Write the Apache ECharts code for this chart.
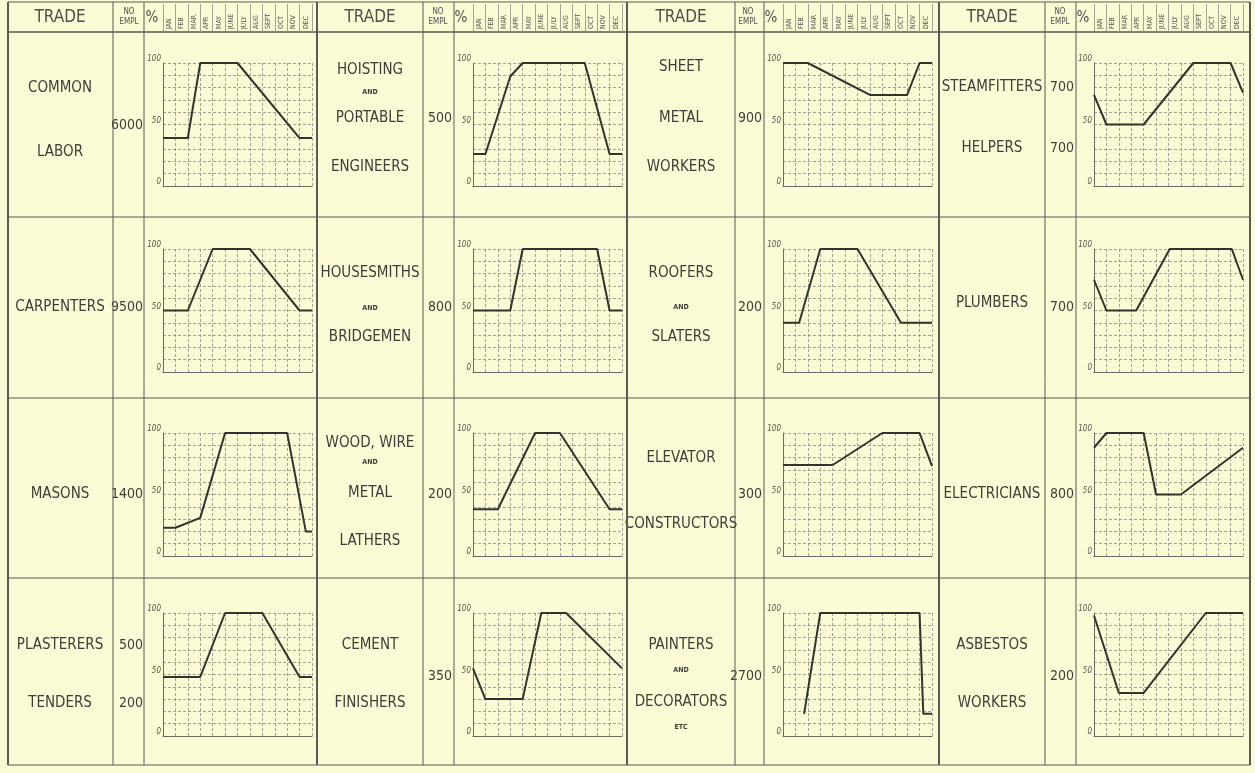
<!DOCTYPE html>
<html>
<head>
<meta charset="utf-8">
<script src="https://cdn.jsdelivr.net/npm/echarts@6/dist/echarts.min.js"></script>
<style>
  html, body { margin: 0; padding: 0; background: #fbfbd6; }
  #main { width: 1255px; height: 773px; }
</style>
</head>
<body>
<div id="main"></div>
<script>
const months = ['JAN', 'FEB', 'MAR', 'APR', 'MAY', 'JUNE', 'JULY', 'AUG', 'SEPT', 'OCT', 'NOV', 'DEC'];

const tradeNames = [
  ['COMMON', 'LABOR'], ['HOISTING', 'AND', 'PORTABLE', 'ENGINEERS'], ['SHEET', 'METAL', 'WORKERS'], ['STEAMFITTERS', 'HELPERS'],
  ['CARPENTERS'], ['HOUSESMITHS', 'AND', 'BRIDGEMEN'], ['ROOFERS', 'AND', 'SLATERS'], ['PLUMBERS'],
  ['MASONS'], ['WOOD, WIRE', 'AND', 'METAL', 'LATHERS'], ['ELEVATOR', 'CONSTRUCTORS'], ['ELECTRICIANS'],
  ['PLASTERERS', 'TENDERS'], ['CEMENT', 'FINISHERS'], ['PAINTERS', 'AND', 'DECORATORS', 'ETC'], ['ASBESTOS', 'WORKERS']
];

const employed = [
  ['6000'], ['500'], ['900'], ['700', '700'],
  ['9500'], ['800'], ['200'], ['700'],
  ['1400'], ['200'], ['300'], ['800'],
  ['500', '200'], ['350'], ['2700'], ['200']
];

// [month boundary (0 = start of Jan, 12 = end of Dec), percent of force employed]
const commonLabor = [[0, 39], [2, 39], [3, 100], [6, 100], [11, 39], [12, 39]];
const hoisting = [[0, 26], [1, 26], [3, 89], [4, 100], [9, 100], [11, 26], [12, 26]];
const sheetMetal = [[0, 100], [2, 100], [7, 74], [10, 74], [11, 100], [12, 100]];
const steamfitters = [[0, 74], [1, 50], [4, 50], [8, 100], [11, 100], [12, 76]];
const carpenters = [[0, 50], [2, 50], [4, 100], [7, 100], [11, 50], [12, 50]];
const housesmiths = [[0, 50], [3, 50], [4, 100], [10, 100], [11, 50], [12, 50]];
const roofers = [[0, 40], [1.3, 40], [3, 100], [6, 100], [9.5, 40], [12, 40]];
const plumbers = [[0, 75], [1, 50], [3.4, 50], [6.1, 100], [11.1, 100], [12, 75]];
const masons = [[0, 23], [1, 23], [3, 31], [5, 100], [10, 100], [11.5, 20], [12, 20]];
const lathers = [[0, 38], [2, 38], [5, 100], [7, 100], [11, 38], [12, 38]];
const elevator = [[0, 74], [4, 74], [8, 100], [11, 100], [12, 73]];
const electricians = [[0, 88], [1, 100], [4, 100], [5, 50], [7, 50], [12, 88]];
const plasterers = [[0, 48], [3, 48], [5, 100], [8, 100], [11, 48], [12, 48]];
const cementFinishers = [[0, 55], [1, 30], [4, 30], [5.5, 100], [7.5, 100], [12, 55]];
const painters = [[1.7, 18], [3, 100], [11, 100], [11.3, 18], [12, 18]];
const asbestos = [[0, 98], [2, 35], [4, 35], [9, 100], [12, 100]];

const seriesData = [
  commonLabor, hoisting, sheetMetal, steamfitters,
  carpenters, housesmiths, roofers, plumbers,
  masons, lathers, elevator, electricians,
  plasterers, cementFinishers, painters, asbestos
];

// layout
const tradeCenter = [60, 370, 681, 992];
const emplRight = [143, 452, 762, 1074];
const plotLeft = [163, 473, 783, 1094];
const plotWidth = 149;
const rowTop = [32, 217, 398, 578];
const plotTop = [63, 249, 433, 613];
const plotHeight = 123;
const labelY = [
  [56, 120], [38, 60, 86, 135], [35, 86, 135], [55, 116],
  [90], [56, 91, 120], [56, 90, 120], [86],
  [96], [45, 64, 95, 143], [60, 126], [96],
  [67, 125], [67, 125], [67, 92, 124, 149], [67, 125]
];
const emplY = [
  [93], [86], [86], [55, 116],
  [90], [90], [90], [90],
  [96], [96], [96], [96],
  [67, 125], [98], [98], [98]
];

const ink = '#3d3d3a';
const font = '"DejaVu Sans Condensed", "DejaVu Sans", sans-serif';

const grids = [], xAxes = [], yAxes = [], series = [], graphics = [];

seriesData.forEach(function (data, i) {
  const r = Math.floor(i / 4), c = i % 4;
  grids.push({ left: plotLeft[c], top: plotTop[r], width: plotWidth, height: plotHeight });
  xAxes.push({
    gridIndex: i, type: 'value', min: 0, max: 12, interval: 1,
    axisLabel: { show: false }, axisTick: { show: false },
    axisLine: { show: true, lineStyle: { color: '#6a6a62', width: 1 } },
    splitLine: { show: true, lineStyle: { color: '#8e8e84', width: 0.8, type: [3, 2] } }
  });
  yAxes.push({
    gridIndex: i, type: 'value', min: 0, max: 100, interval: 10,
    axisTick: { show: false },
    axisLine: { show: true, lineStyle: { color: '#6a6a62', width: 1 } },
    axisLabel: {
      formatter: function (v) { return v % 50 === 0 ? String(v) : ''; },
      fontSize: 8, fontStyle: 'italic', color: '#55554f', margin: 2,
      verticalAlign: 'bottom', fontFamily: font
    },
    splitLine: { show: true, lineStyle: { color: '#8e8e84', width: 0.8, type: [3, 2] } }
  });
  series.push({
    type: 'line', xAxisIndex: i, yAxisIndex: i, data: data,
    symbol: 'none', lineStyle: { color: '#333330', width: 2 }
  });

  // trade names
  tradeNames[i].forEach(function (t, k) {
    const small = (t === 'AND' || t === 'ETC');
    graphics.push({
      type: 'text', x: tradeCenter[c], y: rowTop[r] + labelY[i][k],
      style: {
        text: t, fill: ink, align: 'center', verticalAlign: 'middle',
        font: (small ? 'bold 7px ' : '15px ') + font
      }
    });
  });
  // number employed
  employed[i].forEach(function (n, k) {
    graphics.push({
      type: 'text', x: emplRight[c], y: rowTop[r] + emplY[i][k],
      style: { text: n, fill: ink, align: 'right', verticalAlign: 'middle', font: '14px ' + font }
    });
  });
});

// month header axes
for (let c = 0; c < 4; c++) {
  const gi = grids.length;
  grids.push({ left: plotLeft[c], top: 4, width: plotWidth, height: 28 });
  xAxes.push({
    gridIndex: gi, type: 'category', data: months, boundaryGap: true,
    axisLine: { show: false }, axisTick: { show: false },
    splitLine: { show: true, interval: 0, lineStyle: { color: '#8e8e84', width: 0.8 } },
    axisLabel: { inside: true, rotate: 90, interval: 0, fontSize: 7, color: '#55554f', margin: 3, fontFamily: font }
  });
  yAxes.push({ gridIndex: gi, type: 'value', min: 0, max: 1, show: false });

  const left = [8, 317, 627, 939][c];
  graphics.push(
    { type: 'text', x: tradeCenter[c], y: 18, style: { text: 'TRADE', fill: '#505049', align: 'center', verticalAlign: 'middle', font: '17px ' + font } },
    { type: 'text', x: emplRight[c] - 14, y: 12, style: { text: 'NO', fill: '#505049', align: 'center', verticalAlign: 'middle', font: '8px ' + font } },
    { type: 'text', x: emplRight[c] - 14, y: 22, style: { text: 'EMPL', fill: '#505049', align: 'center', verticalAlign: 'middle', font: '8px ' + font } },
    { type: 'text', x: emplRight[c] + 9, y: 18, style: { text: '%', fill: '#505049', align: 'center', verticalAlign: 'middle', font: '15px ' + font } }
  );
}

// table rules
const vLines = [[8, 2], [113, 1], [144, 1], [317, 2], [423, 1], [454, 1], [627, 2], [735, 1], [764, 1], [939, 2], [1045, 1], [1076, 1], [1250, 2]];
vLines.forEach(function (v) {
  graphics.push({ type: 'line', shape: { x1: v[0], y1: 2, x2: v[0], y2: 765 }, style: { stroke: '#5a5a52', lineWidth: v[1] } });
});
[2, 32, 217, 398, 578, 765].forEach(function (y) {
  graphics.push({ type: 'line', shape: { x1: 8, y1: y, x2: 1250, y2: y }, style: { stroke: '#5a5a52', lineWidth: y === 32 ? 1.5 : 1 } });
});

const chart = echarts.init(document.getElementById('main'));
chart.setOption({
  backgroundColor: '#fbfbd6',
  animation: false,
  grid: grids,
  xAxis: xAxes,
  yAxis: yAxes,
  series: series,
  graphic: graphics
});
</script>
</body>
</html>
